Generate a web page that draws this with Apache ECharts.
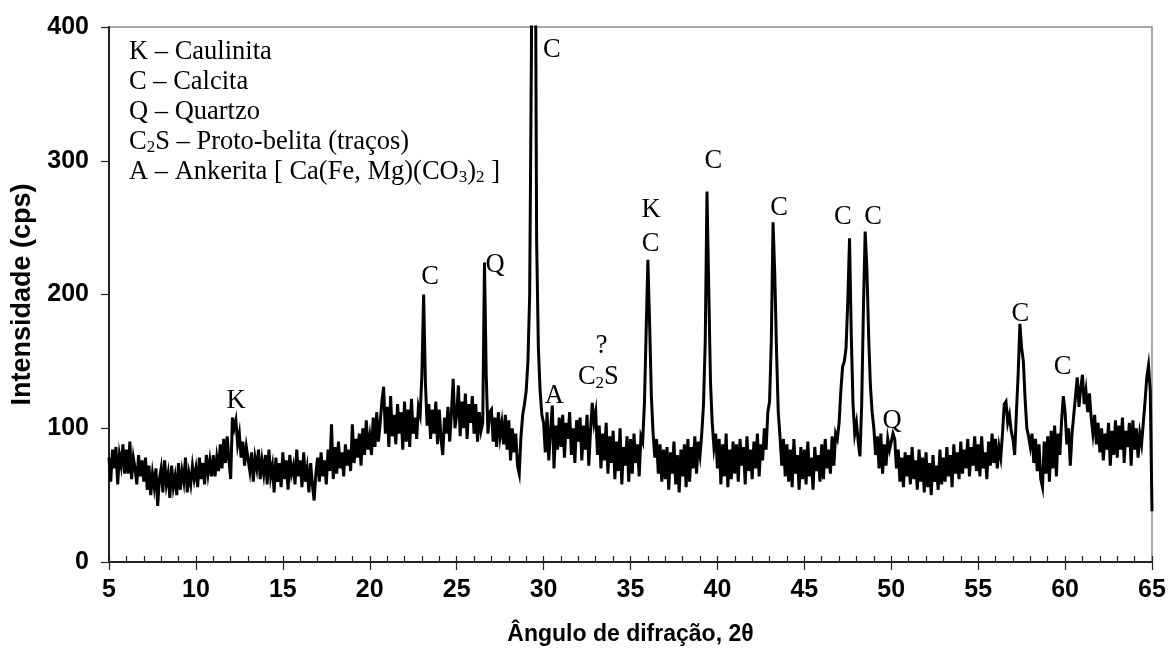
<!DOCTYPE html>
<html><head><meta charset="utf-8">
<script src="https://cdn.jsdelivr.net/npm/echarts@6/dist/echarts.min.js"></script>
<style>html,body{margin:0;padding:0;background:#fff}#c{width:1170px;height:653px}</style>
</head><body><div id="c"></div>
<script>
// Sampling grid of the diffractogram (2θ, degrees)
const angleStart = 5;
const angleStep = 0.1;

// Intensity (cps), 0.1° apart
const cps05_15 = [
  78, 60, 84, 70, 86, 58, 80, 72, 88, 66,
  84, 66, 90, 62, 78, 70, 58, 80, 64, 76,
  60, 78, 54, 72, 50, 66, 56, 70, 42, 62,
  70, 52, 76, 58, 66, 48, 72, 56, 64, 50,
  74, 54, 68, 60, 78, 52, 66, 58, 72, 62,
  70, 56, 78, 62, 74, 58, 80, 66, 76, 64,
  80, 64, 78, 68, 88, 70, 92, 74, 94, 76,
  62, 108, 100, 106, 88, 96, 78, 90, 72, 86,
  86, 68, 82, 60, 78, 70, 84, 62, 76, 66,
  80, 58, 84, 64, 72, 52, 78, 60, 74, 56
];
const cps15_25 = [
  82, 62, 76, 54, 80, 66, 72, 58, 84, 64,
  76, 56, 82, 60, 70, 52, 74, 58, 46, 66,
  78, 60, 82, 64, 76, 58, 84, 68, 103, 62,
  86, 66, 90, 70, 82, 64, 88, 72, 84, 68,
  103, 74, 92, 78, 96, 72, 100, 80, 106, 84,
  94, 80, 108, 86, 112, 90, 104, 120, 131, 96,
  116, 86, 124, 94, 110, 88, 118, 96, 112, 84,
  120, 90, 114, 86, 122, 96, 108, 92, 116, 110,
  140, 200, 135, 102, 118, 92, 114, 96, 120, 88,
  114, 92, 80, 108, 96, 116, 90, 112, 137, 100
];
const cps25_35 = [
  110, 132, 94, 120, 100, 126, 92, 118, 104, 124,
  96, 118, 90, 112, 98, 104, 224, 140, 96, 112,
  114, 90, 108, 86, 112, 94, 104, 88, 110, 84,
  106, 76, 100, 82, 96, 72, 66, 94, 110, 118,
  128, 150, 200, 380, 950, 560, 240, 160, 128, 110,
  104, 82, 112, 76, 98, 117, 70, 102, 84, 108,
  86, 110, 78, 104, 92, 112, 80, 100, 74, 106,
  90, 108, 76, 102, 84, 110, 72, 98, 119, 104,
  112, 80, 102, 70, 96, 76, 104, 66, 94, 74,
  98, 62, 90, 68, 100, 58, 86, 72, 94, 60
];
const cps35_45 = [
  92, 66, 96, 74, 88, 64, 94, 90, 118, 172,
  226, 178, 124, 96, 78, 92, 66, 88, 60, 84,
  62, 86, 54, 82, 66, 90, 58, 80, 52, 84,
  64, 88, 56, 92, 60, 86, 70, 94, 66, 90,
  80, 96, 118, 165, 277, 205, 135, 104, 86, 96,
  70, 92, 58, 88, 64, 96, 56, 84, 62, 90,
  66, 88, 60, 92, 72, 86, 58, 94, 68, 84,
  62, 90, 70, 96, 64, 88, 76, 100, 84, 112,
  120, 165, 254, 215, 158, 112, 94, 72, 92, 64,
  88, 60, 84, 56, 92, 66, 80, 54, 86, 62
];
const cps45_55 = [
  84, 58, 90, 64, 78, 54, 86, 68, 80, 60,
  88, 62, 92, 70, 84, 66, 94, 72, 96, 92,
  104, 128, 146, 150, 160, 195, 242, 170, 118, 96,
  104, 90, 79, 118, 190, 247, 219, 169, 132, 112,
  100, 80, 94, 70, 96, 66, 88, 72, 92, 84,
  90, 96, 92, 70, 84, 60, 78, 56, 82, 64,
  80, 58, 86, 62, 76, 54, 84, 60, 78, 52,
  82, 56, 74, 50, 80, 60, 72, 54, 84, 58,
  78, 60, 86, 64, 80, 56, 88, 66, 82, 62,
  90, 66, 84, 70, 92, 64, 86, 72, 94, 68
];
const cps55_65 = [
  88, 64, 94, 70, 82, 62, 90, 72, 96, 74,
  92, 70, 86, 78, 96, 118, 120, 104, 110, 98,
  92, 80, 112, 140, 178, 160, 150, 122, 100, 94,
  86, 96, 74, 92, 68, 88, 62, 56, 90, 66,
  94, 60, 98, 70, 102, 64, 96, 80, 106, 124,
  112, 88, 100, 72, 96, 110, 124, 138, 116, 130,
  140, 118, 128, 112, 126, 108, 96, 110, 88, 104,
  82, 100, 76, 96, 84, 104, 72, 98, 80, 106,
  78, 102, 84, 108, 74, 98, 86, 104, 72, 106,
  84, 100, 78, 96, 88, 104, 120, 138, 147, 128,
  38
];

// Peak identification labels: [2θ, cps, text]
const peakLabels = [
  [12.31, 120.6, 'K'],
  [23.47, 213, 'C'],
  [27.21, 222, 'Q'],
  [30.47, 383, 'C'],
  [30.62, 124.4, 'A'],
  [33.34, 161.3, '?'],
  [33.15, 138, 'C{s|2}S'],
  [36.18, 263, 'K'],
  [36.15, 238, 'C'],
  [39.76, 300, 'C'],
  [43.55, 264.7, 'C'],
  [47.21, 258, 'C'],
  [48.96, 258, 'C'],
  [50.05, 105.7, 'Q'],
  [57.42, 185.4, 'C'],
  [59.85, 146, 'C']
];

// Legend box lines
const legendLines = [
  'K – Caulinita',
  'C – Calcita',
  'Q – Quartzo',
  'C{s|2}S – Proto-belita (traços)',
  'A – Ankerita [ Ca(Fe, Mg)(CO{s|3}){s|2} ]'
];

const xMin = 5, xMax = 65, xMajor = 5, xMinor = 1;
const yMin = 0, yMax = 400, yMajor = 100;
const xTitle = 'Ângulo de difração, 2θ';
const yTitle = 'Intensidade (cps)';

const intensities = [].concat(cps05_15, cps15_25, cps25_35, cps35_45, cps45_55, cps55_65);
const pattern = intensities.map((v, i) => [+(angleStart + i * angleStep).toFixed(2), v]);

const serif = '"Liberation Serif", "Times New Roman", serif';
const sans = '"Liberation Sans", Arial, sans-serif';
const subStyle = { fontSize: 17, fontFamily: serif, fill: '#000', color: '#000', verticalAlign: 'bottom', lineHeight: 15 };

function textEl(x, y, t, align) {
  return {
    type: 'text', x: x, y: y, silent: true, z: 100,
    style: {
      text: t, fill: '#000', fontFamily: serif, fontSize: 26.5, lineHeight: 29,
      verticalAlign: 'middle', align: align,
      rich: { s: subStyle }
    }
  };
}

const chart = echarts.init(document.getElementById('c'), null, { renderer: 'canvas' });
chart.setOption({
  animation: false,
  backgroundColor: '#fff',
  grid: { left: 109, right: 18, top: 27, bottom: 91, show: true, borderColor: '#8a8a8a', borderWidth: 1.5, backgroundColor: 'transparent' },
  xAxis: [
    {
      type: 'value', min: xMin, max: xMax, interval: xMajor,
      name: xTitle, nameLocation: 'middle', nameGap: 61,
      nameTextStyle: { fontFamily: sans, fontWeight: 'bold', fontSize: 23, color: '#000' },
      axisLine: { show: true, onZero: false, lineStyle: { color: '#222', width: 2 } },
      axisTick: { show: true, inside: false, length: 8, lineStyle: { color: '#222', width: 1.2 } },
      axisLabel: { margin: 16, fontFamily: sans, fontWeight: 'bold', fontSize: 25, color: '#000' },
      splitLine: { show: false }
    },
    {
      type: 'value', min: xMin, max: xMax, interval: xMinor, position: 'bottom',
      axisLine: { show: false },
      axisTick: { show: true, inside: true, length: 6, lineStyle: { color: '#222', width: 1.2 } },
      axisLabel: { show: false },
      splitLine: { show: false }
    }
  ],
  yAxis: {
    type: 'value', min: yMin, max: yMax, interval: yMajor,
    name: yTitle, nameLocation: 'middle', nameGap: 70,
    nameTextStyle: { fontFamily: sans, fontWeight: 'bold', fontSize: 27, color: '#000' },
    axisLine: { show: true, onZero: false, lineStyle: { color: '#222', width: 2 } },
    axisTick: { show: true, inside: false, length: 8, lineStyle: { color: '#222', width: 1.2 } },
    axisLabel: { margin: 20, fontFamily: sans, fontWeight: 'bold', fontSize: 25, color: '#000' },
    splitLine: { show: false }
  },
  series: [
    {
      type: 'line', data: pattern, xAxisIndex: 0, yAxisIndex: 0,
      showSymbol: false, symbol: 'none', clip: true, silent: true,
      lineStyle: { color: '#000', width: 3, join: 'miter' }
    }
  ]
});

const legendEls = legendLines.map((t, i) => textEl(129, 52 + i * 30, t, 'left'));
const peakEls = peakLabels.map(d => {
  const p = chart.convertToPixel({ xAxisIndex: 0, yAxisIndex: 0 }, [d[0], d[1]]);
  return textEl(p[0], p[1], d[2], 'center');
});
chart.setOption({ graphic: legendEls.concat(peakEls) });
</script></body></html>
